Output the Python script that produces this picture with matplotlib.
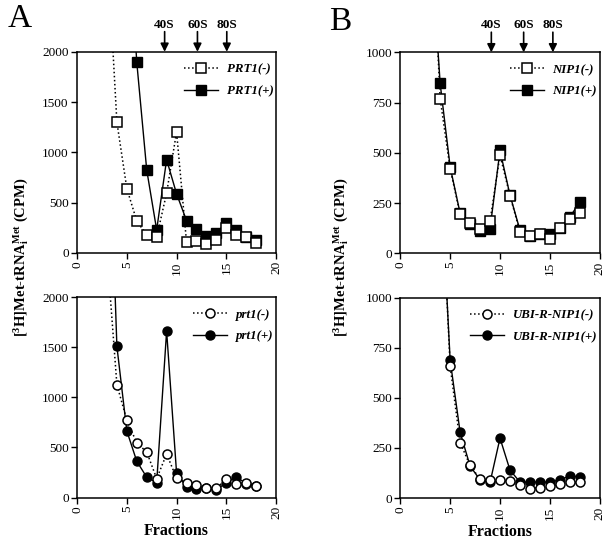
import matplotlib
matplotlib.use("Agg")
import matplotlib.pyplot as plt

plt.rcParams['font.family'] = ['Liberation Serif', 'DejaVu Serif']
plt.rcParams['mathtext.fontset'] = 'custom'
plt.rcParams['mathtext.rm'] = 'Liberation Serif'
plt.rcParams['mathtext.bf'] = 'Liberation Serif:bold'
plt.rcParams['mathtext.it'] = 'Liberation Serif:italic'

# ---- data ----
prt1_minus_x = [3, 4, 5, 6, 7, 8, 9, 10, 11, 12, 13, 14, 15, 16, 17, 18]
prt1_minus_y = [3100, 1300, 640, 316, 179, 156, 595, 1203, 110, 123, 90, 133, 246, 179, 153, 100]
prt1_plus_x = [5, 6, 7, 8, 9, 10, 11, 12, 13, 14, 15, 16, 17, 18]
prt1_plus_y = [3500, 1894, 824, 229, 927, 588, 322, 236, 170, 199, 299, 229, 160, 130]

nip1_minus_x = [3, 4, 5, 6, 7, 8, 9, 10, 11, 12, 13, 14, 15, 16, 17, 18]
nip1_minus_y = [1800, 770, 421, 197, 153, 119, 161, 489, 287, 108, 88, 95, 73, 126, 169, 202]
nip1_plus_x = [3, 4, 5, 6, 7, 8, 9, 10, 11, 12, 13, 14, 15, 16, 17, 18]
nip1_plus_y = [1600, 845, 431, 200, 146, 111, 123, 512, 290, 116, 86, 95, 95, 125, 181, 255]

prt1l_minus_x = [3, 4, 5, 6, 7, 8, 9, 10, 11, 12, 13, 14, 15, 16, 17, 18]
prt1l_minus_y = [2450, 1126, 771, 545, 455, 189, 435, 193, 146, 126, 100, 93, 183, 140, 146, 120]
prt1l_plus_x = [3, 4, 5, 6, 7, 8, 9, 10, 11, 12, 13, 14, 15, 16, 17, 18]
prt1l_plus_y = [4400, 1508, 664, 362, 203, 150, 1661, 246, 106, 90, 100, 76, 150, 206, 140, 120]

ubi_minus_x = [4, 5, 6, 7, 8, 9, 10, 11, 12, 13, 14, 15, 16, 17, 18]
ubi_minus_y = [1720, 659, 277, 163, 95, 88, 88, 83, 63, 48, 53, 58, 70, 78, 78]
ubi_plus_x = [4, 5, 6, 7, 8, 9, 10, 11, 12, 13, 14, 15, 16, 17, 18]
ubi_plus_y = [1660, 689, 329, 160, 91, 78, 299, 140, 80, 80, 80, 80, 91, 111, 105]

markers_A = ["40S", "60S", "80S"]
markers_A_x = [8.8, 12.1, 15.05]
markers_B_x = [9.13, 12.37, 15.3]

xticks = [0, 5, 10, 15, 20]
yticks_A = [0, 500, 1000, 1500, 2000]
yticks_B = [0, 250, 500, 750, 1000]

fig = plt.figure(figsize=(6.12, 5.45), dpi=100)

pos = {
    'At': [0.126, 0.536, 0.325, 0.369],
    'Bt': [0.654, 0.535, 0.326, 0.369],
    'Ab': [0.126, 0.087, 0.325, 0.368],
    'Bb': [0.654, 0.086, 0.326, 0.368],
}

def setup(ax, yticks, ymax):
    ax.set_xlim(0, 20)
    ax.set_ylim(0, ymax)
    ax.set_xticks(xticks)
    ax.set_yticks(yticks)
    ax.set_xticklabels([str(t) for t in xticks], rotation=90, fontsize=9.5)
    ax.set_yticklabels([str(t) for t in yticks], fontsize=9.5)
    ax.tick_params(direction='out', length=4, width=1.0, pad=2)
    for s in ax.spines.values():
        s.set_linewidth(1.1)

def plot_pair(ax, xm, ym, xp, yp, lab_m, lab_p, marker):
    ax.plot(xp, yp, '-', color='black', lw=1.0, marker=marker, ms=6.5,
            mfc='black', mec='black', mew=1.0, label=lab_p, zorder=2)
    ax.plot(xm, ym, ':', color='black', lw=1.1, marker=marker, ms=6.5,
            mfc='white', mec='black', mew=1.1, label=lab_m, zorder=3)
    h, l = ax.get_legend_handles_labels()
    ax.legend([h[1], h[0]], [l[1], l[0]], loc='upper right', bbox_to_anchor=(1.045, 1.0),
              frameon=False, handlelength=2.6, handletextpad=0.7, labelspacing=0.75,
              prop={'family': 'Liberation Serif', 'weight': 'bold', 'style': 'italic', 'size': 9.3})

def arrows(ax, xs):
    for name, x in zip(markers_A, xs):
        ax.annotate('', xy=(x, 1.0), xycoords=('data', 'axes fraction'),
                    xytext=(x, 1.1), textcoords=('data', 'axes fraction'),
                    arrowprops=dict(arrowstyle='-|>', color='black', lw=1.2,
                                    mutation_scale=12, shrinkA=0, shrinkB=0),
                    annotation_clip=False)
        ax.text(x, 1.135, name, transform=ax.get_xaxis_transform(), ha='center', va='center',
                fontsize=9.5, fontweight='bold')

axAt = fig.add_axes(pos['At'])
setup(axAt, yticks_A, 2000)
plot_pair(axAt, prt1_minus_x, prt1_minus_y, prt1_plus_x, prt1_plus_y, 'PRT1(-)', 'PRT1(+)', 's')
arrows(axAt, markers_A_x)

axBt = fig.add_axes(pos['Bt'])
setup(axBt, yticks_B, 1000)
plot_pair(axBt, nip1_minus_x, nip1_minus_y, nip1_plus_x, nip1_plus_y, 'NIP1(-)', 'NIP1(+)', 's')
arrows(axBt, markers_B_x)

axAb = fig.add_axes(pos['Ab'])
setup(axAb, yticks_A, 2000)
plot_pair(axAb, prt1l_minus_x, prt1l_minus_y, prt1l_plus_x, prt1l_plus_y, 'prt1(-)', 'prt1(+)', 'o')
axAb.set_xlabel('Fractions', fontsize=11.5, fontweight='bold', labelpad=3)

axBb = fig.add_axes(pos['Bb'])
setup(axBb, yticks_B, 1000)
plot_pair(axBb, ubi_minus_x, ubi_minus_y, ubi_plus_x, ubi_plus_y, 'UBI-R-NIP1(-)', 'UBI-R-NIP1(+)', 'o')
axBb.set_xlabel('Fractions', fontsize=11.5, fontweight='bold', labelpad=3)

ylab = r'[$\mathbf{^{3}}$H]Met-tRNA$\mathbf{_{i}^{Met}}$ (CPM)'
fig.text(0.035, 0.528, ylab, rotation=90, ha='center', va='center', fontsize=10.5, fontweight='bold')
fig.text(0.558, 0.528, ylab, rotation=90, ha='center', va='center', fontsize=10.5, fontweight='bold')

fig.text(0.012, 0.965, 'A', fontsize=24, ha='left', va='center')
fig.text(0.538, 0.960, 'B', fontsize=24, ha='left', va='center')

fig.savefig('out.png', dpi=100)
